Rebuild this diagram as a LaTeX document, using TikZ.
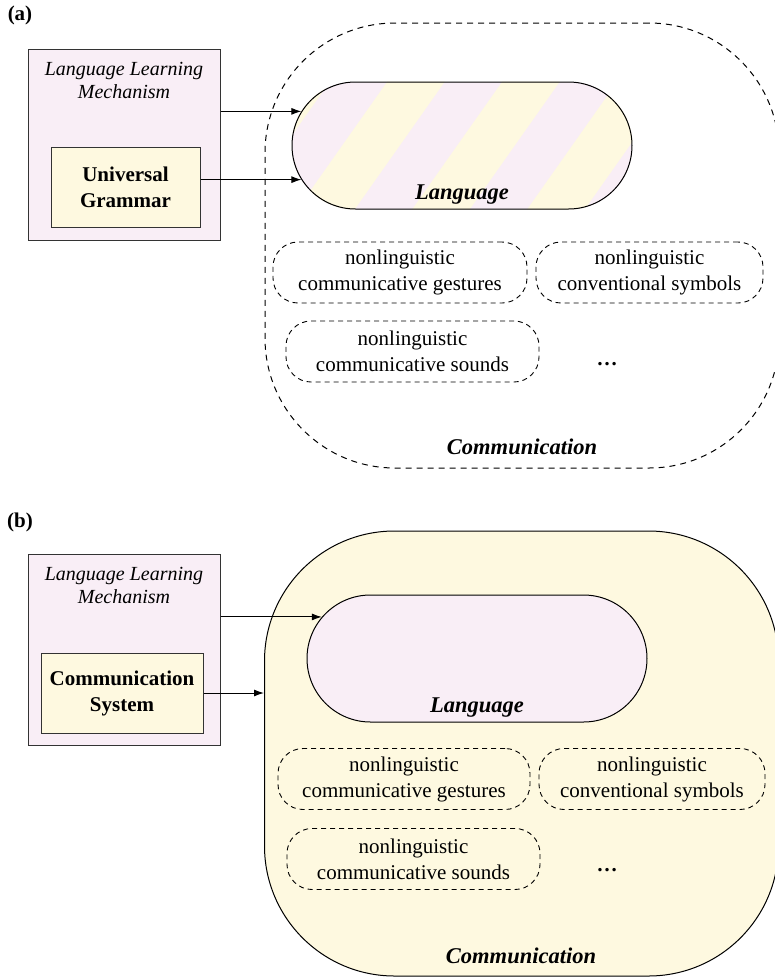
\documentclass[tikz,border=0pt]{standalone}
\usepackage{fontspec}
\setmainfont{Liberation Serif}
\usepackage{tikz}
\usetikzlibrary{calc}
\usetikzlibrary{arrows.meta}
\usetikzlibrary{shapes}
\usetikzlibrary{shapes.misc}
\usetikzlibrary{positioning}
\usetikzlibrary{backgrounds}
\definecolor{pinkfill}{RGB}{249,238,246}
\definecolor{yellowfill}{RGB}{254,249,224}
\definecolor{edge}{RGB}{51,51,51}
\tikzset{>={Latex[length=10pt, width=7pt]}}
\tikzstyle{panel} = [inner sep = 0, font = \fontsize{21}{26}\selectfont\bfseries]
\tikzstyle{mechbox} = [rectangle, draw = edge, line width = 1pt, fill = pinkfill, minimum width = 192pt, minimum height = 191pt, inner sep = 0]
\tikzstyle{mechtitle} = [inner sep = 0, align = center, font = \fontsize{20}{23}\selectfont\itshape]
\tikzstyle{innerbox} = [rectangle, draw = edge, line width = 1pt, fill = yellowfill, inner sep = 0, minimum height = 80pt, align = center, font = \fontsize{21}{26}\selectfont\bfseries]
\tikzstyle{langshape} = [rounded rectangle, draw = black, line width = 1pt, minimum width = 340pt, minimum height = 127pt, inner sep = 0]
\tikzstyle{commshape} = [rectangle, rounded corners = 130pt, line width = 1pt, minimum width = 514pt, minimum height = 445pt, inner sep = 0]
\tikzstyle{bigtext} = [inner sep = 0, anchor = base, font = \fontsize{22.5}{26}\selectfont\bfseries\itshape]
\tikzstyle{nonling} = [rectangle, rounded corners = 25pt, draw = black, line width = 0.9pt, dash pattern = on 5pt off 4pt, align = center, minimum height = 61pt, inner sep = 0]
\tikzstyle{more} = [anchor = base, inner sep = 0, font = \fontsize{21}{26}\selectfont\bfseries]

\begin{document}
\begin{tikzpicture}[x = 1pt, y = -1pt, font = \fontsize{21}{26}\selectfont]
\useasboundingbox (0, 0) rectangle (775, 978);

% (a) language learning mechanism with universal grammar
\node [panel] (tagA) at (20, 15) {(a)};
\node [commshape, draw = black, dash pattern = on 6pt off 5pt] (commA) at (522, 245.5) {};
\node [bigtext] (commtA) at (522, 454) {Communication};
\node [langshape] (langA) at (462, 145.5) {};
\begin{scope}[on background layer]
  \clip [rounded corners = 63.5pt] (langA.west |- langA.north) rectangle (langA.east |- langA.south);
  \fill [pinkfill] (langA.west |- langA.north) rectangle (langA.east |- langA.south);
  \foreach \s in {272, 387, 502, 617, 732}
    \fill [yellowfill] (\s + 8.5, 70) -- (\s + 66, 70) -- (\s - 39.8, 220) -- (\s - 97.3, 220) -- cycle;
\end{scope}
\node [bigtext] (langtA) at ([yshift = 10pt] langA.south) {Language};
\node [nonling, minimum width = 254pt] (gestA) at (400, 272.5) {nonlinguistic\\communicative gestures};
\node [nonling, minimum width = 227pt] (symbA) at (649.5, 272.5) {nonlinguistic\\conventional symbols};
\node [nonling, minimum width = 253pt] (soundA) at (412.5, 351.5) {nonlinguistic\\communicative sounds};
\node [more] (dotsA) at (607, 365) {\dots};

\node [mechbox] (llmA) at (124, 144.5) {};
\node [mechtitle] (titleA) at (124, 80) {Language Learning\\Mechanism};
\node [innerbox, minimum width = 149pt] (ugA) at (125.5, 187) {Universal\\Grammar};
\draw [->, line width = 1pt] (llmA.east |- langA.168) -- (langA.168);
\draw [->, line width = 1pt] (ugA.east |- langA.192) -- (langA.192);

% (b) language learning mechanism with communication system
\node [panel] (tagB) at (20, 522) {(b)};
\node [commshape, draw = black, fill = yellowfill] (commB) at (521.5, 753.5) {};
\node [bigtext] (commtB) at (521, 963) {Communication};
\node [langshape, fill = pinkfill] (langB) at (477, 658.5) {};
\node [bigtext] (langtB) at ([yshift = 10pt] langB.south) {Language};
\node [nonling, minimum width = 252pt] (gestB) at (404, 779) {nonlinguistic\\communicative gestures};
\node [nonling, minimum width = 226pt] (symbB) at (652, 779) {nonlinguistic\\conventional symbols};
\node [nonling, minimum width = 253pt] (soundB) at (413.5, 859) {nonlinguistic\\communicative sounds};
\node [more] (dotsB) at (607, 871) {\dots};

\node [mechbox] (llmB) at (124, 649.5) {};
\node [mechtitle] (titleB) at (124, 585) {Language Learning\\Mechanism};
\node [innerbox, minimum width = 162pt] (csB) at (122, 693) {Communication\\System};
\draw [->, line width = 1pt] (llmB.east |- langB.165) -- (langB.165);
\draw [->, line width = 1pt] (csB.east) -- (csB.east -| commB.west);
\end{tikzpicture}
\end{document}
